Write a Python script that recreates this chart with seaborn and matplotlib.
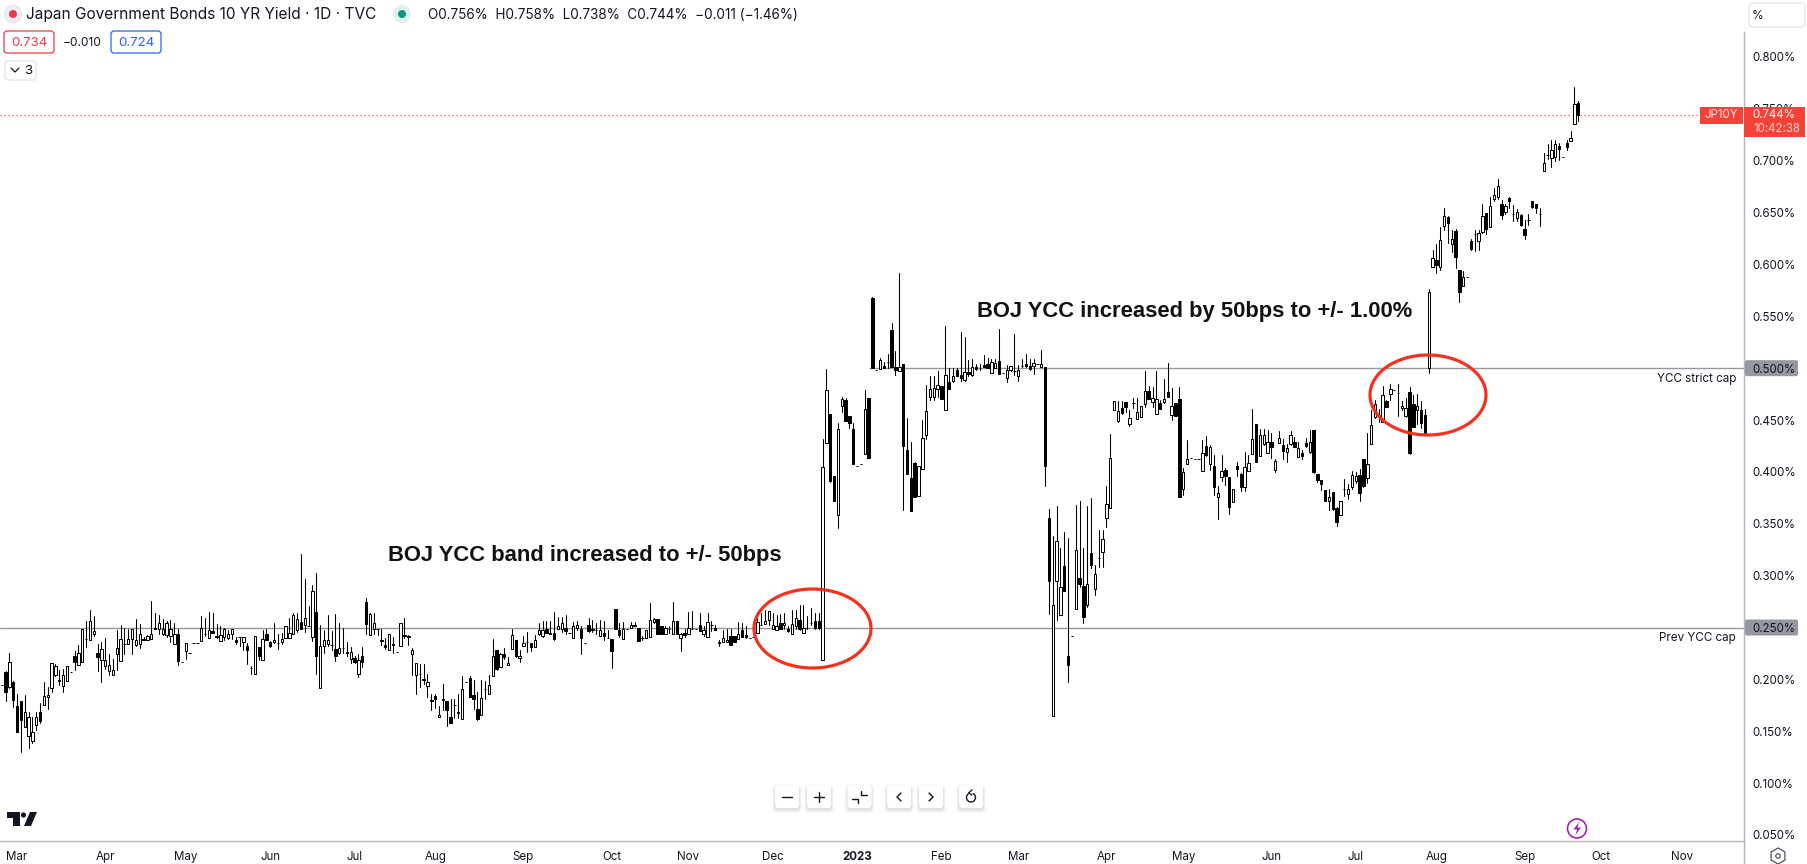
import numpy as np
import pandas as pd
import matplotlib
matplotlib.use('Agg')
import matplotlib.pyplot as plt
from matplotlib.patches import Ellipse, FancyBboxPatch, Circle, Rectangle, Polygon
import seaborn as sns

# JP10Y daily candles (percent), ten bars per row
opens = [
    .195, .207, .193, .197, .174, .179, .154, .145, .141, .156,
    .169, .175, .183, .192, .204, .199, .194, .198, .207, .223,
    .214, .217, .239, .238, .244, .225, .219, .213, .208, .204,
    .224, .218, .234, .234, .239, .233, .234, .239, .238, .239,
    .250, .249, .244, .243, .242, .234, .244, .217, .227, .225,
    .235, .235, .237, .244, .240, .247, .242, .237, .241, .240,
    .244, .238, .241, .236, .232, .211, .205, .231, .219, .244,
    .236, .236, .235, .236, .240, .240, .244, .248, .255, .252,
    .251, .241, .265, .192, .232, .234, .233, .229, .225, .230,
    .226, .220, .221, .205, .223, .275, .243, .249, .249, .238,
    .233, .228, .234, .226, .232, .243, .242, .224, .204, .205,
    .200, .194, .180, .184, .164, .181, .179, .164, .175, .169,
    .162, .197, .201, .185, .171, .166, .191, .186, .203, .228,
    .212, .224, .214, .229, .238, .221, .232, .236, .235, .231,
    .244, .242, .249, .245, .245, .249, .249, .250, .245, .240,
    .250, .249, .235, .252, .249, .248, .242, .245, .240, .239,
    .268, .248, .239, .249, .250, .252, .250, .240, .240, .241,
    .255, .258, .251, .244, .249, .244, .256, .240, .245, .244,
    .249, .249, .252, .244, .241, .252, .250, .236, .236, .236,
    .242, .242, .239, .248, .243, .240, .241, .245, .252, .253,
    .257, .249, .248, .254, .252, .249, .244, .251, .257, .245,
    .250, .254, .256, .256, .219, .428, .456, .396, .358, .464,
    .469, .454, .441, .406, .408, .417, .471, .568, .498, .499,
    .502, .506, .537, .501, .497, .504, .421, .394, .409, .377,
    .403, .436, .472, .472, .480, .483, .460, .487, .488, .498,
    .493, .489, .496, .493, .501, .500, .503, .504, .495, .500,
    .507, .495, .491, .498, .497, .492, .502, .504, .502, .502,
    .504, .501, .501, .356, .165, .295, .262, .309, .223, .242,
    .268, .298, .290, .272, .322, .287, .317, .323, .356, .365,
    .460, .449, .462, .467, .446, .466, .451, .453, .465, .478,
    .467, .456, .466, .467, .477, .455, .466, .470, .384, .408,
    .413, .412, .412, .401, .425, .408, .406, .376, .395, .402,
    .395, .371, .406, .398, .385, .401, .417, .446, .415, .427,
    .418, .429, .402, .428, .426, .419, .427, .429, .414, .418,
    .428, .419, .440, .398, .392, .383, .372, .381, .365, .358,
    .384, .379, .385, .391, .397, .412, .394, .427, .453, .455,
    .448, .468, .475, .479, .476, .462, .454, .477, .465, .460,
    .460, .455, .500, .598, .604, .598, .637, .646, .620, .632,
    .595, .579, .588, .623, .629, .623, .631, .650, .636, .663,
    .665, .658, .651, .664, .649, .645, .648, .634, .643, .661,
    .658, .649, .690, .706, .703, .704, .714, .704, .717, .719,
    .735, .756,
]
highs = [
    .195, .208, .225, .198, .186, .179, .185, .169, .164, .169,
    .177, .197, .193, .216, .215, .209, .210, .213, .207, .227,
    .233, .249, .256, .267, .261, .234, .236, .240, .224, .220,
    .248, .252, .250, .249, .249, .258, .253, .241, .243, .276,
    .264, .262, .258, .256, .257, .254, .249, .217, .235, .225,
    .235, .235, .261, .259, .265, .264, .253, .251, .250, .248,
    .249, .241, .241, .241, .235, .213, .242, .231, .248, .249,
    .237, .254, .244, .245, .251, .259, .264, .264, .321, .297,
    .271, .291, .303, .252, .248, .262, .247, .263, .254, .250,
    .236, .231, .223, .224, .231, .278, .264, .264, .249, .249,
    .240, .244, .241, .226, .254, .259, .243, .230, .216, .215,
    .215, .205, .186, .186, .174, .196, .179, .181, .181, .186,
    .203, .197, .203, .199, .188, .199, .198, .204, .239, .228,
    .225, .230, .222, .249, .238, .228, .242, .246, .235, .243,
    .254, .256, .256, .256, .265, .260, .260, .262, .245, .255,
    .256, .251, .235, .259, .257, .254, .257, .256, .248, .239,
    .268, .254, .255, .249, .255, .255, .250, .242, .248, .274,
    .259, .258, .251, .251, .251, .275, .256, .245, .249, .265,
    .266, .249, .264, .251, .264, .256, .252, .238, .248, .249,
    .249, .242, .255, .254, .251, .240, .241, .265, .264, .267,
    .266, .264, .262, .263, .264, .251, .267, .267, .272, .272,
    .261, .269, .264, .264, .432, .499, .456, .396, .447, .472,
    .471, .454, .447, .406, .408, .479, .471, .569, .498, .510,
    .506, .514, .544, .517, .592, .504, .452, .429, .410, .406,
    .450, .484, .492, .492, .497, .483, .541, .500, .500, .500,
    .535, .530, .508, .509, .504, .504, .513, .510, .509, .509,
    .538, .495, .503, .502, .533, .503, .509, .514, .509, .509,
    .504, .518, .501, .364, .338, .367, .327, .342, .336, .242,
    .368, .372, .327, .367, .375, .310, .344, .344, .386, .437,
    .468, .468, .468, .467, .460, .471, .471, .464, .497, .483,
    .482, .497, .469, .490, .505, .481, .466, .482, .404, .431,
    .413, .412, .412, .431, .435, .426, .416, .386, .416, .404,
    .395, .384, .410, .399, .419, .416, .461, .446, .441, .441,
    .440, .438, .412, .439, .432, .427, .439, .434, .429, .421,
    .433, .440, .440, .398, .392, .383, .384, .381, .366, .372,
    .393, .388, .401, .400, .403, .412, .438, .460, .469, .461,
    .483, .469, .485, .479, .485, .468, .471, .482, .474, .475,
    .468, .461, .576, .614, .620, .636, .654, .647, .633, .634,
    .595, .594, .588, .625, .633, .633, .658, .650, .665, .674,
    .682, .662, .658, .665, .657, .653, .649, .643, .649, .661,
    .658, .654, .707, .716, .720, .720, .717, .704, .720, .729,
    .771, .758,
]
lows = [
    .195, .179, .192, .173, .149, .130, .154, .134, .139, .151,
    .158, .175, .171, .188, .203, .195, .188, .198, .207, .209,
    .214, .217, .231, .238, .242, .208, .197, .210, .204, .204,
    .209, .218, .224, .234, .224, .232, .230, .238, .238, .239,
    .249, .244, .243, .241, .236, .234, .214, .217, .220, .225,
    .235, .235, .237, .242, .240, .245, .240, .237, .238, .239,
    .239, .234, .232, .228, .215, .205, .205, .219, .219, .238,
    .231, .235, .229, .234, .240, .240, .244, .246, .249, .246,
    .251, .237, .205, .192, .225, .232, .228, .218, .224, .225,
    .223, .216, .216, .202, .212, .244, .243, .244, .243, .233,
    .229, .228, .225, .226, .232, .240, .233, .204, .186, .193,
    .196, .183, .170, .172, .164, .170, .155, .158, .163, .163,
    .162, .197, .183, .171, .161, .166, .181, .186, .203, .209,
    .212, .220, .214, .229, .222, .217, .232, .226, .227, .231,
    .243, .241, .245, .244, .238, .249, .246, .244, .245, .240,
    .248, .224, .235, .246, .246, .244, .242, .238, .240, .211,
    .249, .241, .239, .249, .250, .251, .237, .238, .240, .241,
    .254, .244, .244, .244, .245, .244, .244, .227, .241, .244,
    .249, .249, .247, .242, .241, .247, .248, .232, .236, .236,
    .233, .236, .239, .241, .240, .240, .241, .245, .252, .253,
    .252, .249, .248, .249, .249, .246, .244, .249, .248, .245,
    .249, .252, .249, .249, .219, .428, .390, .372, .346, .458,
    .449, .442, .408, .406, .408, .417, .413, .500, .498, .499,
    .500, .500, .501, .493, .497, .363, .398, .362, .376, .377,
    .403, .432, .469, .469, .472, .470, .460, .480, .487, .492,
    .488, .488, .492, .492, .498, .498, .501, .500, .495, .500,
    .494, .495, .487, .497, .493, .488, .501, .501, .498, .494,
    .504, .501, .386, .263, .165, .257, .262, .285, .197, .242,
    .268, .289, .254, .270, .307, .281, .308, .308, .347, .365,
    .460, .448, .456, .458, .444, .462, .451, .453, .463, .470,
    .463, .456, .461, .466, .472, .450, .454, .376, .378, .408,
    .413, .412, .412, .401, .415, .402, .378, .355, .391, .387,
    .359, .371, .396, .382, .382, .401, .417, .410, .415, .426,
    .418, .413, .400, .428, .412, .410, .426, .424, .414, .412,
    .424, .418, .399, .390, .383, .372, .363, .363, .348, .358,
    .377, .374, .384, .389, .372, .385, .389, .427, .452, .448,
    .448, .463, .469, .479, .454, .460, .453, .417, .443, .446,
    .442, .436, .495, .598, .592, .595, .633, .621, .612, .597,
    .564, .579, .588, .614, .613, .614, .630, .629, .636, .661,
    .663, .644, .649, .654, .642, .642, .637, .625, .638, .654,
    .650, .637, .690, .702, .694, .700, .701, .704, .710, .719,
    .735, .738,
]
closes = [
    .195, .188, .217, .180, .149, .161, .169, .164, .149, .164,
    .160, .184, .185, .216, .213, .198, .204, .213, .207, .217,
    .225, .249, .239, .256, .247, .222, .229, .219, .214, .209,
    .230, .239, .234, .239, .249, .238, .244, .238, .242, .244,
    .249, .254, .249, .254, .249, .244, .218, .217, .235, .225,
    .235, .235, .250, .244, .248, .245, .241, .243, .249, .244,
    .249, .236, .241, .241, .228, .211, .242, .223, .239, .238,
    .232, .238, .235, .239, .251, .245, .262, .258, .249, .259,
    .251, .285, .223, .232, .238, .238, .233, .223, .230, .230,
    .225, .226, .217, .219, .217, .253, .263, .254, .249, .237,
    .231, .244, .233, .226, .254, .242, .241, .228, .216, .205,
    .199, .197, .179, .181, .166, .180, .170, .158, .175, .168,
    .191, .197, .183, .181, .162, .182, .191, .195, .223, .210,
    .224, .222, .216, .243, .223, .223, .235, .236, .231, .238,
    .248, .248, .245, .244, .239, .251, .254, .247, .245, .251,
    .252, .240, .235, .247, .248, .248, .248, .242, .240, .227,
    .249, .243, .249, .249, .252, .251, .237, .240, .248, .257,
    .258, .244, .244, .250, .249, .256, .244, .244, .243, .250,
    .249, .249, .247, .248, .255, .252, .248, .235, .240, .238,
    .233, .236, .244, .241, .241, .240, .241, .255, .252, .256,
    .266, .252, .251, .249, .254, .247, .253, .259, .249, .250,
    .250, .254, .250, .250, .405, .479, .391, .372, .441, .470,
    .449, .447, .408, .406, .408, .461, .413, .500, .498, .508,
    .500, .506, .501, .498, .501, .425, .398, .362, .376, .406,
    .433, .459, .480, .481, .484, .470, .493, .480, .492, .492,
    .491, .496, .494, .501, .499, .500, .501, .500, .506, .505,
    .494, .495, .498, .502, .497, .498, .502, .502, .499, .505,
    .504, .504, .406, .295, .272, .333, .289, .285, .214, .242,
    .325, .292, .260, .292, .310, .302, .317, .335, .369, .413,
    .468, .459, .457, .463, .452, .466, .458, .464, .478, .470,
    .471, .470, .461, .470, .472, .464, .454, .376, .400, .412,
    .413, .412, .412, .418, .416, .424, .385, .380, .401, .396,
    .366, .384, .403, .385, .405, .409, .432, .410, .436, .436,
    .429, .424, .411, .433, .420, .423, .436, .424, .423, .415,
    .425, .429, .400, .392, .388, .372, .376, .364, .352, .372,
    .384, .384, .397, .396, .380, .386, .408, .445, .465, .455,
    .474, .463, .480, .479, .476, .464, .462, .418, .443, .464,
    .447, .438, .573, .606, .599, .624, .647, .640, .625, .607,
    .573, .588, .588, .615, .629, .630, .647, .634, .656, .667,
    .676, .648, .656, .661, .649, .651, .638, .628, .643, .655,
    .654, .649, .698, .706, .710, .716, .711, .704, .713, .722,
    .755, .744,
]

y_ticks = [.05, .10, .15, .20, .25, .30, .35, .40, .45, .50, .55, .60, .65, .70, .75, .80]
month_labels = ['Mar', 'Apr', 'May', 'Jun', 'Jul', 'Aug', 'Sep', 'Oct', 'Nov', 'Dec', '2023',
                'Feb', 'Mar', 'Apr', 'May', 'Jun', 'Jul', 'Aug', 'Sep', 'Oct', 'Nov']
month_bars = [4, 27, 48, 70, 92, 113, 136, 159, 179, 201, 223, 245, 265, 288, 308, 331, 353, 374, 397, 417, 438]

assert len(opens) == len(highs) == len(lows) == len(closes)

df = pd.DataFrame({'open': opens, 'high': highs, 'low': lows, 'close': closes})
df['bar'] = np.arange(len(df))
df['body_low'] = df[['open', 'close']].min(axis=1)
df['height'] = (df['open'] - df['close']).abs()
rising = df[df['close'] >= df['open']]
falling = df[df['close'] < df['open']]
wicks = df.melt(id_vars='bar', value_vars=['high', 'low'], value_name='pct')

sns.set_theme(style="white")
plt.rcParams['font.family'] = ['Inter', 'DejaVu Sans']

W, H = 1807, 864
fig = plt.figure(figsize=(W / 100, H / 100), dpi=100)
ax = fig.add_axes([0, (H - 841) / H, 1744 / W, (841 - 32) / H])

# overlay in image pixels for the annotations and the TradingView chrome
ov = fig.add_axes([0, 0, 1, 1], facecolor='none')
ov.set_xlim(0, W)
ov.set_ylim(H, 0)
ov.axis('off')

GRID = '#9598a1'
AXIS = '#b2b5be'
RED = '#f44336'
TXT = '#131722'

px_per_bar = 3.836
ax.axhline(.25, color=GRID, lw=1.0, zorder=1)
ax.hlines(.50, 226, 460, color=GRID, lw=1.0, zorder=1)
ax.axhline(closes[-1], color=RED, lw=0.9, ls=(0, (1, 2.2)), zorder=1)

sns.lineplot(data=wicks, x='bar', y='pct', units='bar', estimator=None, color='black',
             linewidth=0.75, legend=False, ax=ax, zorder=2)
sns.barplot(data=rising, x='bar', y='height', bottom=rising['body_low'].values, native_scale=True,
            width=0.62, color='white', saturation=1, edgecolor='black', linewidth=0.72,
            errorbar=None, ax=ax, zorder=3)
sns.barplot(data=falling, x='bar', y='height', bottom=falling['body_low'].values, native_scale=True,
            width=0.62, color='black', saturation=1, edgecolor='black', linewidth=0.72,
            errorbar=None, ax=ax, zorder=3)

ax.set_xlim(-1.7 / px_per_bar, (1744 - 1.7) / px_per_bar)
ax.set_ylim(.8 - (841 - 57) / 1037.3, .8 + (57 - 32) / 1037.3)
ax.set_xlabel('')
ax.set_ylabel('')
ax.set_axisbelow(False)
ax.yaxis.tick_right()
ax.set_yticks(y_ticks)
ax.set_yticklabels([f'{v:.3f}%' for v in y_ticks], fontsize=8.3, color=TXT)
ax.set_xticks(month_bars)
ax.set_xticklabels(month_labels, fontsize=8.3, color=TXT)
ax.tick_params(axis='both', length=0)
ax.tick_params(axis='y', pad=6)
ax.tick_params(axis='x', pad=7.5)
for lab, m in zip(ax.get_xticklabels(), month_labels):
    if m == '2023':
        lab.set_fontweight('bold')
for s in ['top', 'left']:
    ax.spines[s].set_visible(False)
for s in ['right', 'bottom']:
    ax.spines[s].set_color(AXIS)
    ax.spines[s].set_linewidth(1.0)

# gray price boxes behind the 0.500% and 0.250% tick labels
for v in (.25, .50):
    yc = 57 + (.8 - v) * 1037.3
    ax.add_patch(FancyBboxPatch((1745, yc - 8), 53, 16, boxstyle='round,pad=0,rounding_size=2',
                                facecolor=GRID, edgecolor='none', transform=ov.transData,
                                clip_on=False, zorder=1))

ov.plot([1744, 1744], [841, 864], color=AXIS, lw=1.0)

for cx, cy, w, h in [(812.5, 628.5, 117, 79), (1428, 395, 116, 80)]:
    ov.add_patch(Ellipse((cx, cy), w, h, fill=False, edgecolor='#f5301c', lw=2.3, zorder=6))

ov.text(388, 555, 'BOJ YCC band increased to +/- 50bps', family='Liberation Sans', weight='bold',
        fontsize=15.8, color='#111111', va='center', ha='left')
ov.text(977, 311.5, 'BOJ YCC increased by 50bps to +/- 1.00%', family='Liberation Sans', weight='bold',
        fontsize=15.8, color='#111111', va='center', ha='left')
ov.text(1736, 379, 'YCC strict cap', fontsize=8.4, color=TXT, ha='right', va='center')
ov.text(1736, 638, 'Prev YCC cap', fontsize=8.4, color=TXT, ha='right', va='center')

# last price labels
ov.add_patch(Rectangle((1744.5, 107), 61, 30, facecolor=RED, edgecolor='none', zorder=5))
ov.add_patch(Rectangle((1700, 107), 43, 17, facecolor=RED, edgecolor='none', zorder=5))
ov.text(1721, 115.5, 'JP10Y', fontsize=8.3, color='#ffe4e1', ha='center', va='center', zorder=6)
ov.text(1752, 115.5, '0.744%', fontsize=8.3, color='white', ha='left', va='center', zorder=6)
ov.text(1753, 128.5, '10:42:38', fontsize=8.3, color='#fbd0cb', ha='left', va='center', zorder=6)

# legend line at the top
ov.add_patch(Circle((13, 14), 8.5, facecolor='#eef0f5', edgecolor='#e0e3eb', lw=0.8))
ov.add_patch(Circle((13, 14), 4, facecolor='#f23645', edgecolor='none'))
ov.text(26, 15, 'Japan Government Bonds 10 YR Yield · 1D · TVC', fontsize=11.1, color=TXT, va='center', ha='left')
ov.add_patch(Circle((402, 14), 9, facecolor='#dff2ee', edgecolor='none'))
ov.add_patch(Circle((402, 14), 4, facecolor='#089981', edgecolor='none'))
ov.text(428, 15, 'O0.756%  H0.758%  L0.738%  C0.744%  \u22120.011 (\u22121.46%)', fontsize=9.75, color=TXT,
        va='center', ha='left')

ov.add_patch(FancyBboxPatch((4, 31), 50, 22, boxstyle='round,pad=0,rounding_size=3',
                            facecolor='white', edgecolor='#f23645', lw=0.9))
ov.text(29, 42.5, '0.734', fontsize=9.6, color='#f23645', ha='center', va='center')
ov.text(82, 43, '\u22120.010', fontsize=8.6, color=TXT, ha='center', va='center')
ov.add_patch(FancyBboxPatch((111, 31), 50, 22, boxstyle='round,pad=0,rounding_size=3',
                            facecolor='white', edgecolor='#2962ff', lw=0.9))
ov.text(136, 42.5, '0.724', fontsize=9.6, color='#2962ff', ha='center', va='center')
ov.add_patch(FancyBboxPatch((5, 61), 31, 19, boxstyle='round,pad=0,rounding_size=3',
                            facecolor='white', edgecolor='#e0e3eb', lw=0.9))
ov.plot([11, 15, 19], [68, 72, 68], color=TXT, lw=0.9)
ov.text(28, 70.5, '3', fontsize=9.6, color=TXT, ha='center', va='center')

ov.add_patch(FancyBboxPatch((1749, 3), 56, 24, boxstyle='round,pad=0,rounding_size=4',
                            facecolor='white', edgecolor='#e0e3eb', lw=0.9))
ov.text(1752, 16, '%', fontsize=8.6, color=TXT, ha='left', va='center')

# chart navigation buttons with a soft shadow
for bx in [787, 819, 859.5, 899, 931, 971]:
    for grow, a in [(3, .025), (2, .035), (1, .05)]:
        ov.add_patch(FancyBboxPatch((bx - 12 - grow, 785 + 2 - grow), 24 + 2 * grow, 23 + 2 * grow,
                                    boxstyle='round,pad=0,rounding_size=5', facecolor='black',
                                    alpha=a, edgecolor='none'))
    ov.add_patch(FancyBboxPatch((bx - 12, 785), 24, 23, boxstyle='round,pad=0,rounding_size=4',
                                facecolor='white', edgecolor='none'))
icon = dict(color=TXT, lw=1.0, solid_capstyle='round')
ov.plot([782, 792], [797, 797], **icon)
ov.plot([814, 824], [797, 797], **icon)
ov.plot([819, 819], [792, 802], **icon)
ov.plot([852, 858, 858], [798.5, 798.5, 803], **icon)
ov.plot([861, 861, 867], [790.5, 795, 795], **icon)
ov.plot([901, 897, 901], [793, 797, 801], **icon)
ov.plot([929, 933, 929], [793, 797, 801], **icon)
ang = np.radians(np.arange(-60, 240, 10))
ov.plot(971 + 4.5 * np.cos(ang), 797.5 + 4.5 * np.sin(ang), **icon)
ov.plot([972, 968.5, 972], [790, 793, 795], **icon)

# purple lightning badge
ov.add_patch(Circle((1577, 828.5), 9.5, fill=False, edgecolor='#9c27b0', lw=1.2))
ov.add_patch(Polygon([(1579, 822), (1573.5, 829.5), (1577, 829.5), (1575.5, 835), (1581, 827.5), (1577.5, 827.5)],
                     facecolor='#9c27b0', edgecolor='none'))

# TradingView logo
ov.add_patch(Polygon([(7, 812), (20, 812), (20, 826), (13, 826), (13, 818), (7, 818)], facecolor='#131722', edgecolor='none'))
ov.add_patch(Circle((23.5, 815), 2.6, facecolor='#131722', edgecolor='none'))
ov.add_patch(Polygon([(30, 812), (37, 812), (31, 826), (24, 826)], facecolor='#131722', edgecolor='none'))

# settings gear
ov.add_patch(Polygon([(1778 + 8 * np.cos(a), 856 + 8 * np.sin(a)) for a in np.arange(6) * np.pi / 3 + np.pi / 6],
                     fill=False, edgecolor='#50535e', lw=0.9))
ov.add_patch(Circle((1778, 856), 2.2, fill=False, edgecolor='#50535e', lw=0.9))

fig.savefig('out.png', dpi=100)
